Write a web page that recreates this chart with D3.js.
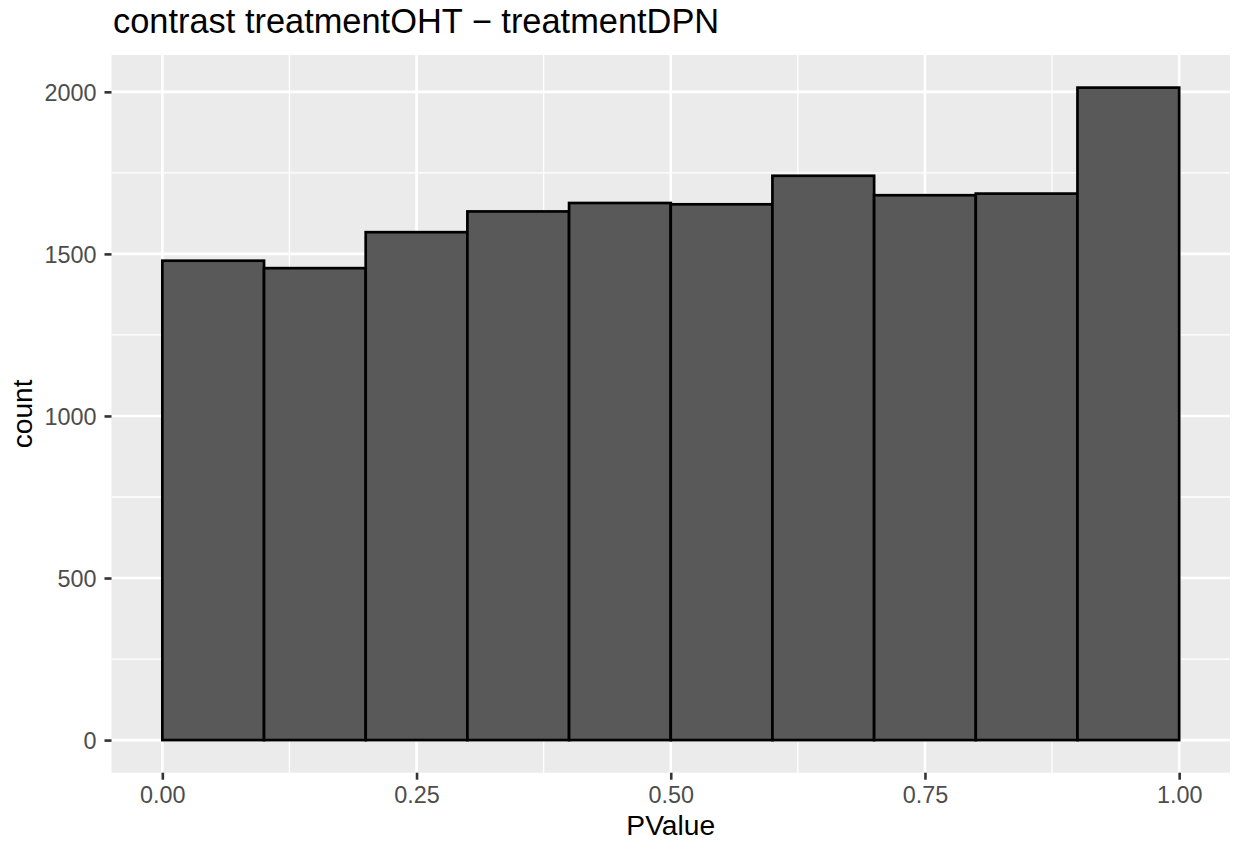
<!DOCTYPE html>
<html>
<head>
<meta charset="utf-8">
<script src="https://cdn.jsdelivr.net/npm/d3@7"></script>
<style>
  html, body { margin: 0; padding: 0; background: #fff; }
  svg { display: block; }
</style>
</head>
<body>
<svg id="chart" width="1233" height="847"></svg>
<script>
// ---- data ----
const binStarts = [0.0, 0.1, 0.2, 0.3, 0.4, 0.5, 0.6, 0.7, 0.8, 0.9];
const binWidth = 0.1;
const counts = [1479, 1456, 1567, 1631, 1657, 1653, 1741, 1681, 1686, 2013];
const xTicks = [0, 0.25, 0.5, 0.75, 1.0];
const xTickLabels = ["0.00", "0.25", "0.50", "0.75", "1.00"];
const xMinor = [0.125, 0.375, 0.625, 0.875];
const yTicks = [0, 500, 1000, 1500, 2000];
const yTickLabels = ["0", "500", "1000", "1500", "2000"];
const yMinor = [250, 750, 1250, 1750];
const titleText = "contrast treatmentOHT \u2212 treatmentDPN";
const xLabel = "PValue";
const yLabel = "count";

// ---- layout ----
const panel = { left: 111.5, right: 1230, top: 55, bottom: 772.7 };
const font = "'Liberation Sans', Arial, Helvetica, sans-serif";

const maxC = d3.max(counts);
const x = d3.scaleLinear().domain([-0.05, 1.05]).range([panel.left, panel.right]);
const y = d3.scaleLinear().domain([-0.05 * maxC, maxC * 1.05]).range([panel.bottom, panel.top]);

const svg = d3.select("#chart");

// panel background
svg.append("rect")
  .attr("x", panel.left).attr("y", panel.top)
  .attr("width", panel.right - panel.left).attr("height", panel.bottom - panel.top)
  .attr("fill", "#EBEBEB");

const grid = svg.append("g");
// minor grid
grid.selectAll(".xm").data(xMinor).enter().append("line")
  .attr("x1", d => x(d)).attr("x2", d => x(d))
  .attr("y1", panel.top).attr("y2", panel.bottom)
  .attr("stroke", "#fff").attr("stroke-width", 1.3);
grid.selectAll(".ym").data(yMinor).enter().append("line")
  .attr("y1", d => y(d)).attr("y2", d => y(d))
  .attr("x1", panel.left).attr("x2", panel.right)
  .attr("stroke", "#fff").attr("stroke-width", 1.3);
// major grid
grid.selectAll(".xM").data(xTicks).enter().append("line")
  .attr("x1", d => x(d)).attr("x2", d => x(d))
  .attr("y1", panel.top).attr("y2", panel.bottom)
  .attr("stroke", "#fff").attr("stroke-width", 2.6);
grid.selectAll(".yM").data(yTicks).enter().append("line")
  .attr("y1", d => y(d)).attr("y2", d => y(d))
  .attr("x1", panel.left).attr("x2", panel.right)
  .attr("stroke", "#fff").attr("stroke-width", 2.6);

// bars
svg.append("g").selectAll("rect").data(binStarts).enter().append("rect")
  .attr("x", d => x(d))
  .attr("width", d => x(d + binWidth) - x(d))
  .attr("y", (d, i) => y(counts[i]))
  .attr("height", (d, i) => y(0) - y(counts[i]))
  .attr("fill", "#595959")
  .attr("stroke", "#000")
  .attr("stroke-width", 2.7);

// x axis
const xAxis = d3.axisBottom(x).tickValues(xTicks)
  .tickFormat((d, i) => xTickLabels[i]).tickSize(7).tickPadding(4);
const gx = svg.append("g").attr("transform", `translate(0,${panel.bottom})`).call(xAxis);
gx.select(".domain").remove();
gx.selectAll(".tick line").attr("stroke", "#333333").attr("stroke-width", 2.6);
gx.selectAll(".tick text").attr("fill", "#4D4D4D")
  .style("font-family", font).style("font-size", "23.4px")
  .attr("dy", null).attr("y", 30);

// y axis
const yAxis = d3.axisLeft(y).tickValues(yTicks)
  .tickFormat((d, i) => yTickLabels[i]).tickSize(7).tickPadding(6);
const gy = svg.append("g").attr("transform", `translate(${panel.left},0)`).call(yAxis);
gy.select(".domain").remove();
gy.selectAll(".tick line").attr("stroke", "#333333").attr("stroke-width", 2.6);
gy.selectAll(".tick text").attr("fill", "#4D4D4D")
  .style("font-family", font).style("font-size", "23.4px")
  .attr("x", -15).attr("dy", "0.36em");

// axis titles
svg.append("text")
  .attr("x", (panel.left + panel.right) / 2).attr("y", 835)
  .attr("text-anchor", "middle")
  .style("font-family", font).style("font-size", "28.2px").attr("fill", "#000")
  .text(xLabel);
svg.append("text")
  .attr("transform", `translate(31.5,${(panel.top + panel.bottom) / 2}) rotate(-90)`)
  .attr("text-anchor", "middle")
  .style("font-family", font).style("font-size", "28.2px").attr("fill", "#000")
  .text(yLabel);

// title
svg.append("text")
  .attr("x", 113).attr("y", 33)
  .style("font-family", font).style("font-size", "34.4px").attr("fill", "#000")
  .text(titleText);
</script>
</body>
</html>
